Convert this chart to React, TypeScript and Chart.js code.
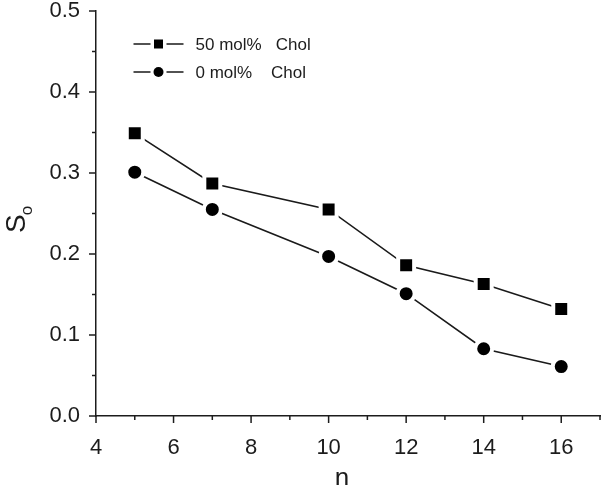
import React, { useEffect, useRef } from 'react';
import { Chart, registerables } from 'chart.js';

Chart.register(...registerables);

// ---- data ----
const nValues = [5, 7, 10, 12, 14, 16];
const chol50 = [0.349, 0.287, 0.255, 0.186, 0.163, 0.132];
const chol0 = [0.301, 0.255, 0.197, 0.151, 0.083, 0.061];
const seriesLabels = ['50 mol%   Chol', '0 mol%    Chol'];
const xTickValues = [4, 5, 6, 7, 8, 9, 10, 11, 12, 13, 14, 15, 16, 17];
const yTickValues = [0, 0.05, 0.1, 0.15, 0.2, 0.25, 0.3, 0.35, 0.4, 0.45, 0.5];
const xTitle = 'n';
const yTitleMain = 'S';
const yTitleSub = 'o';

const FONT = '"Liberation Sans", Arial, sans-serif';
const INK = '#1c1c1c';

const isMajorY = (v: number) => Math.abs(v * 10 - Math.round(v * 10)) < 1e-6;
const isMajorX = (v: number) => Math.round(v) % 2 === 0;

const decorPlugin = {
  id: 'decor',
  afterDraw(chart: any) {
    const ctx: CanvasRenderingContext2D = chart.ctx;
    const { left, right, top, bottom } = chart.chartArea;
    const xs = chart.scales.x;
    const ys = chart.scales.y;
    ctx.save();
    ctx.strokeStyle = INK;
    ctx.lineWidth = 1.5;
    // x tick marks
    xs.ticks.forEach((t: any) => {
      const px = xs.getPixelForValue(t.value);
      const len = isMajorX(t.value) ? 7 : 4;
      ctx.beginPath();
      ctx.moveTo(px, bottom);
      ctx.lineTo(px, bottom + len);
      ctx.stroke();
    });
    // y tick marks
    ys.ticks.forEach((t: any) => {
      const py = ys.getPixelForValue(t.value);
      const len = isMajorY(t.value) ? 7 : 4;
      ctx.beginPath();
      ctx.moveTo(left, py);
      ctx.lineTo(left - len, py);
      ctx.stroke();
    });

    // x title
    ctx.fillStyle = INK;
    ctx.font = `26px ${FONT}`;
    ctx.textAlign = 'center';
    ctx.textBaseline = 'alphabetic';
    ctx.fillText(xTitle, (left + right) / 2 - 6, chart.height + 1);

    // y title with subscript
    ctx.save();
    ctx.translate(25, (top + bottom) / 2 + 19.5);
    ctx.rotate(-Math.PI / 2);
    ctx.textAlign = 'left';
    ctx.font = `28px ${FONT}`;
    ctx.fillText(yTitleMain, 0, 0);
    const w = ctx.measureText(yTitleMain).width;
    ctx.font = `17px ${FONT}`;
    ctx.fillText(yTitleSub, w - 1, 7);
    ctx.restore();

    // legend
    const lx = left + 37.5;
    const ly = top + 33;
    chart.data.datasets.forEach((ds: any, i: number) => {
      const y = ly + i * 28;
      ctx.strokeStyle = ds.borderColor;
      ctx.lineWidth = 1.5;
      ctx.beginPath();
      ctx.moveTo(lx, y);
      ctx.lineTo(lx + 17, y);
      ctx.moveTo(lx + 33, y);
      ctx.lineTo(lx + 50, y);
      ctx.stroke();
      ctx.fillStyle = ds.pointBackgroundColor;
      const cx = lx + 25;
      if (ds.pointStyle === 'rect') {
        ctx.fillRect(cx - 4.5, y - 4.5, 9, 9);
      } else {
        ctx.beginPath();
        ctx.arc(cx, y, 5, 0, Math.PI * 2);
        ctx.fill();
      }
      ctx.fillStyle = INK;
      ctx.font = `17px ${FONT}`;
      ctx.textAlign = 'left';
      ctx.textBaseline = 'middle';
      ctx.fillText(ds.label, lx + 62, y + 1);
    });
    ctx.restore();
  },
};

export default function App() {
  const canvasRef = useRef<HTMLCanvasElement | null>(null);

  useEffect(() => {
    document.body.style.margin = '0';
    const canvas = canvasRef.current;
    if (!canvas) return;
    const toPoints = (ys: number[]) => nValues.map((n, i) => ({ x: n, y: ys[i] }));
    const chart = new Chart(canvas, {
      type: 'line',
      data: {
        datasets: [
          {
            label: seriesLabels[0],
            data: toPoints(chol50),
            borderColor: '#1a1a1a',
            borderWidth: 1.6,
            pointStyle: 'rect',
            pointRadius: 11.3,
            pointBackgroundColor: '#000000',
            pointBorderColor: '#ffffff',
            pointBorderWidth: 4,
            fill: false,
            tension: 0,
            clip: false,
          },
          {
            label: seriesLabels[1],
            data: toPoints(chol0),
            borderColor: '#1a1a1a',
            borderWidth: 1.6,
            pointStyle: 'circle',
            pointRadius: 8.5,
            pointBackgroundColor: '#000000',
            pointBorderColor: '#ffffff',
            pointBorderWidth: 4,
            fill: false,
            tension: 0,
            clip: false,
          },
        ],
      },
      options: {
        responsive: false,
        animation: false,
        devicePixelRatio: 1,
        layout: { autoPadding: false, padding: { top: 11, right: 1, left: 0, bottom: 0 } },
        plugins: {
          legend: { display: false },
          tooltip: { enabled: false },
        },
        events: [],
        scales: {
          x: {
            type: 'linear',
            min: 4,
            max: 17,
            afterBuildTicks: (scale: any) => {
              scale.ticks = xTickValues.map((v) => ({ value: v }));
            },
            afterFit: (scale: any) => {
              scale.height = 69;
              scale.paddingLeft = 0;
              scale.paddingRight = 0;
            },
            grid: { display: false, drawTicks: false },
            border: { display: true, color: INK, width: 1.5 },
            ticks: {
              autoSkip: false,
              maxRotation: 0,
              padding: 21,
              color: INK,
              font: { family: FONT, size: 22, lineHeight: 1 },
              callback: (v: any) => (isMajorX(Number(v)) ? String(v) : ''),
            },
          },
          y: {
            type: 'linear',
            min: 0,
            max: 0.5,
            afterBuildTicks: (scale: any) => {
              scale.ticks = yTickValues.map((v) => ({ value: v }));
            },
            afterFit: (scale: any) => {
              scale.width = 96;
              scale.paddingTop = 0;
              scale.paddingBottom = 0;
            },
            grid: { display: false, drawTicks: false },
            border: { display: true, color: INK, width: 1.5 },
            ticks: {
              autoSkip: false,
              padding: 16,
              color: INK,
              font: { family: FONT, size: 22, lineHeight: 1 },
              callback: (v: any) => (isMajorY(Number(v)) ? Number(v).toFixed(1) : ''),
            },
          },
        },
      },
      plugins: [decorPlugin],
    });
    return () => chart.destroy();
  }, []);

  return (
    <div style={{ width: 601, height: 485 }}>
      <canvas ref={canvasRef} width={601} height={485} style={{ display: 'block' }} />
    </div>
  );
}
